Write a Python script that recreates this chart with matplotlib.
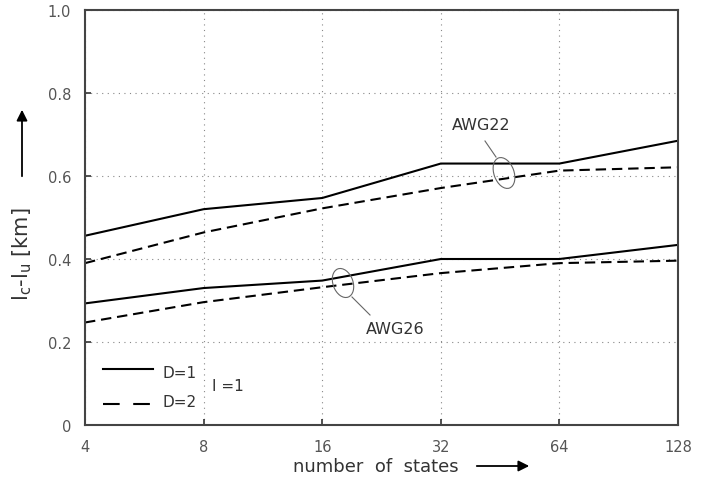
import matplotlib
matplotlib.use("Agg")
import matplotlib.pyplot as plt
from matplotlib.patches import Ellipse, FancyArrowPatch
from matplotlib.transforms import IdentityTransform
from matplotlib.lines import Line2D

states = [4, 8, 16, 32, 64, 128]
awg22_d1 = [0.456, 0.520, 0.547, 0.630, 0.630, 0.685]
awg22_d2 = [0.390, 0.464, 0.522, 0.571, 0.613, 0.621]
awg26_d1 = [0.293, 0.330, 0.348, 0.400, 0.400, 0.434]
awg26_d2 = [0.247, 0.296, 0.332, 0.366, 0.390, 0.396]
yticks = [0, 0.2, 0.4, 0.6, 0.8, 1.0]
ytick_labels = ["0", "0.2", "0.4", "0.6", "0.8", "1.0"]

W, H = 706, 489
gray = "#555555"
txt = "#333333"
plt.rcParams['font.family'] = ['DejaVu Sans']

fig = plt.figure(figsize=(W/100, H/100), dpi=100)
ax = fig.add_axes([85/W, 1-426/H, (678-85)/W, (426-11)/H])

def fx(x):
    return x / W

def fy(y):
    return 1 - y / H

dash = (5, 2.8)
ax.set_xscale('log', base=2)
ax.plot(states, awg22_d1, color='black', lw=1.5)
ax.plot(states, awg22_d2, color='black', lw=1.5, dashes=dash)
ax.plot(states, awg26_d1, color='black', lw=1.5)
ax.plot(states, awg26_d2, color='black', lw=1.5, dashes=dash)

ax.set_xlim(4, 128)
ax.set_ylim(0, 1.0)
ax.set_xticks(states)
ax.set_xticklabels([str(s) for s in states])
ax.minorticks_off()
ax.set_yticks(yticks)
ax.set_yticklabels(ytick_labels)
ax.grid(True, linestyle=(0, (1, 4)), color='#888888', lw=0.8)
ax.tick_params(direction='in', length=4, width=1.2, colors='#333333', labelcolor=gray,
               labelsize=10.5, pad=10)
for s in ax.spines.values():
    s.set_color('#444444')
    s.set_linewidth(1.5)

# legend (figure pixel positions)
fig.add_artist(Line2D([fx(103), fx(153)], [fy(370), fy(370)], color='black', lw=1.5,
                      transform=fig.transFigure))
fig.add_artist(Line2D([fx(103), fx(153)], [fy(405), fy(405)], color='black', lw=1.5,
                      dashes=(8, 6.5), transform=fig.transFigure))
fig.text(fx(162), fy(374), "D=1", color=txt, fontsize=11, va='center')
fig.text(fx(162), fy(403), "D=2", color=txt, fontsize=11, va='center')
fig.text(fx(212), fy(387), "I =1", color=txt, fontsize=11, va='center')

# annotations
ell_kw = dict(fill=False, edgecolor='#666666', lw=0.8, transform=IdentityTransform())
fig.add_artist(Ellipse((504, H-174), width=20, height=32, angle=20, **ell_kw))
fig.add_artist(Line2D([fx(485), fx(496)], [fy(142), fy(158)], color='#666666', lw=0.8,
                      transform=fig.transFigure))
fig.text(fx(452), fy(125), "AWG22", color=txt, fontsize=11.5, va='center')

fig.add_artist(Ellipse((343, H-284), width=20, height=30, angle=20, **ell_kw))
fig.add_artist(Line2D([fx(352), fx(370)], [fy(298), fy(316)], color='#666666', lw=0.8,
                      transform=fig.transFigure))
fig.text(fx(366), fy(329), "AWG26", color=txt, fontsize=11.5, va='center')

# axis labels with arrows
fig.text(fx(293), fy(467), "number  of  states", color=txt, fontsize=13, va='center')
fig.add_artist(FancyArrowPatch((fx(474), fy(467)), (fx(532), fy(467)),
               transform=fig.transFigure, arrowstyle='-|>', mutation_scale=16, color='black', lw=1.3))
fig.text(fx(22), fy(254), "l$_\\mathregular{c}$-l$_\\mathregular{u}$ [km]", color=txt,
         fontsize=15, rotation=90, ha='center', va='center')
fig.add_artist(FancyArrowPatch((fx(22), fy(180)), (fx(22), fy(108)),
               transform=fig.transFigure, arrowstyle='-|>', mutation_scale=16, color='black', lw=1.3))

fig.savefig("out.png", dpi=100)
